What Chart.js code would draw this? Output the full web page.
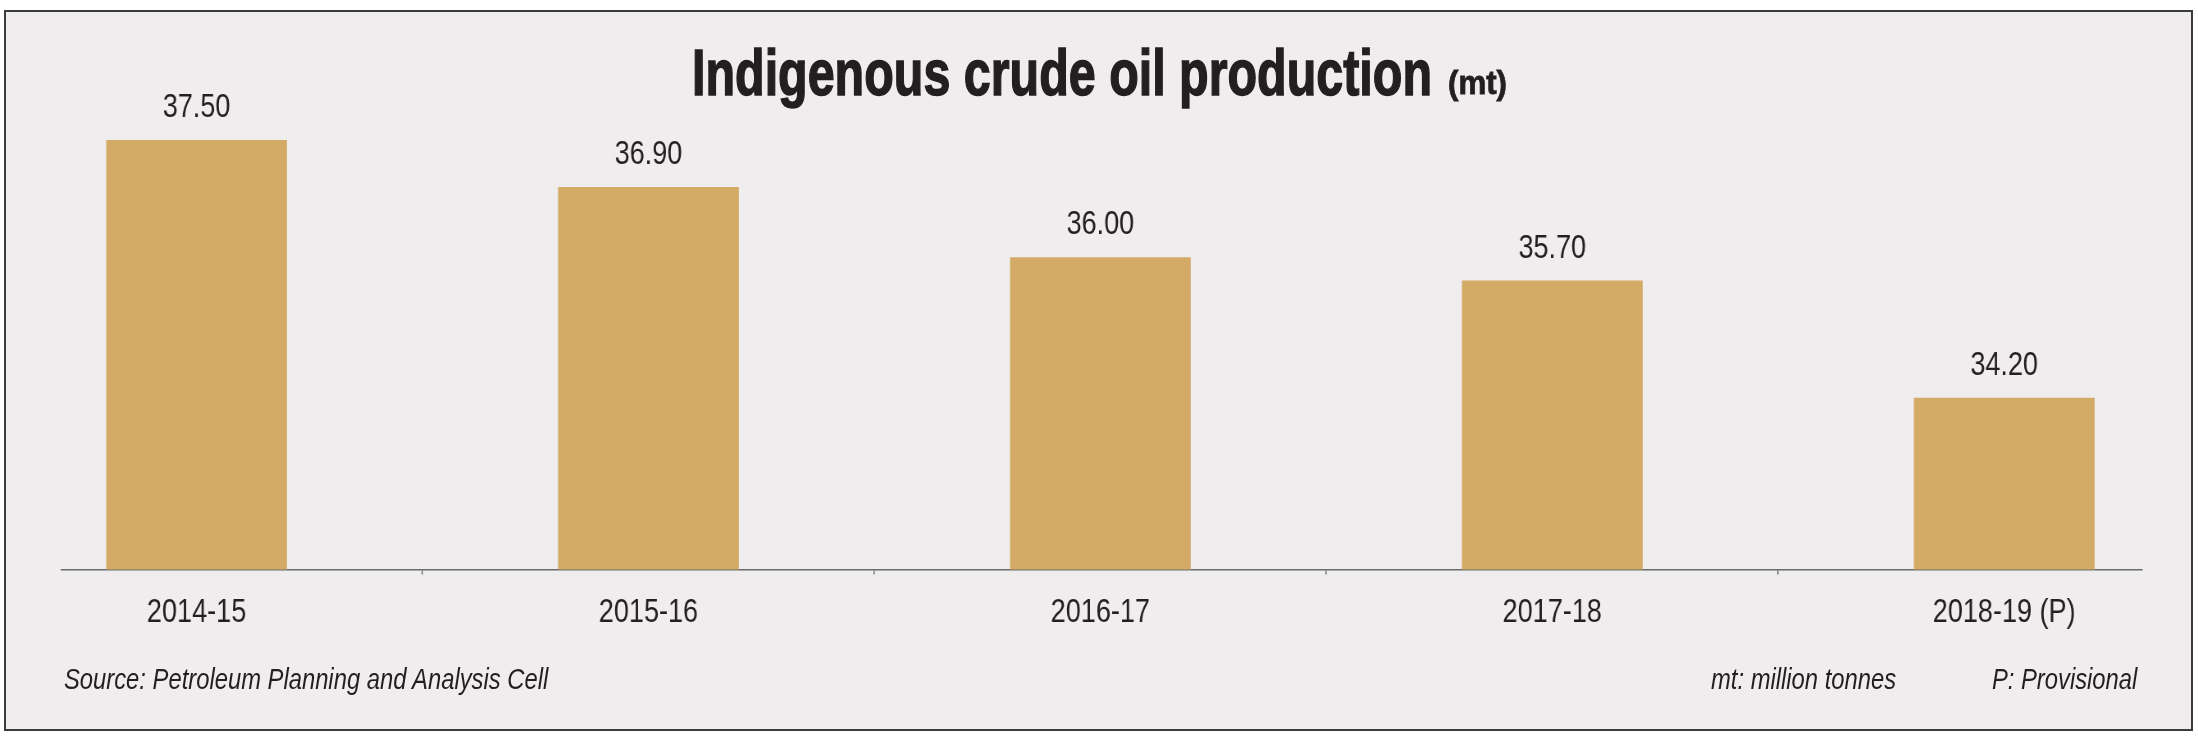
<!DOCTYPE html>
<html>
<head>
<meta charset="utf-8">
<script src="https://cdn.jsdelivr.net/npm/chart.js@4/dist/chart.umd.min.js"></script>
<style>
  body { margin: 0; background: #ffffff; width: 2198px; height: 741px; overflow: hidden; position: relative; }
  #frame { position: absolute; left: 4px; top: 10px; width: 2189px; height: 721px; box-sizing: border-box;
           border: 2px solid #3c3a3b; background: #efedee; }
  /* canvas is drawn 1/0.82 wider and squeezed back, which gives the narrow type of the print graphic */
  #chart { position: absolute; left: 0; top: 0; }
  .sans { font-family: "Liberation Sans", Arial, sans-serif; color: #231f20; }
  #title, #unit { position: absolute; white-space: nowrap; font-weight: bold; line-height: 1; transform-origin: 0 0;
                  -webkit-text-stroke: 1.5px #231f20; }
  #title { left: 692px; top: 41px; font-size: 64px; }
  #unit { left: 1448px; top: 66px; font-size: 33px; -webkit-text-stroke: 0.8px #231f20; }
  .note { position: absolute; top: 664.5px; font-size: 29px; font-style: italic; line-height: 1; white-space: nowrap;
          transform: scaleX(0.82); transform-origin: 0 0; }
  .note.right { transform-origin: 100% 0; }
</style>
</head>
<body>
<div id="frame"></div>
<canvas id="chart" width="2680" height="741" style="width:2198px;height:741px"></canvas>
<div id="title" class="sans">Indigenous crude oil production</div>
<div id="unit" class="sans">(mt)</div>
<div class="note sans" style="left:64px">Source: Petroleum Planning and Analysis Cell</div>
<div class="note sans" style="left:1711px">mt: million tonnes</div>
<div class="note right sans" style="right:61px">P: Provisional</div>
<script>
// chart values
let categories = ['2014-15', '2015-16', '2016-17', '2017-18', '2018-19 (P)']
let production = [37.5, 36.9, 36.0, 35.7, 34.2]

let fontFamily = '"Liberation Sans", Arial, sans-serif'
let textColor = '#231f20'
let barColor = '#d3ab67'
let axisColor = '#6b6b6b'
let squeeze = 2198 / 2680   // css width / canvas width

// squeeze heading text to the width it has in the print version
function fitWidth(el, target) {
    let w = el.getBoundingClientRect().width
    el.style.transform = 'scaleX(' + (target / w) + ')'
}

// numbers written above each bar
let valueLabels = {
    id: 'valueLabels',
    afterDatasetsDraw(chart) {
        let ctx = chart.ctx
        let meta = chart.getDatasetMeta(0)
        ctx.save()
        ctx.font = '33px ' + fontFamily
        ctx.fillStyle = textColor
        ctx.textAlign = 'center'
        ctx.textBaseline = 'alphabetic'
        meta.data.forEach(function(bar, i) {
            ctx.fillText(production[i].toFixed(2), bar.x, bar.y - 23)
        })
        ctx.restore()
    }
}

function drawChart() {
    fitWidth(document.querySelector('#title'), 740)
    fitWidth(document.querySelector('#unit'), 59)

    let ctx = document.querySelector('#chart').getContext('2d')
    new Chart(ctx, {
        type: 'bar',
        data: {
            datasets: [{
                data: production.map(function(v, i) { return { x: i, y: v } }),
                backgroundColor: barColor,
                // the half-way tick marks make the slot half a category wide
                barPercentage: 0.8,
                categoryPercentage: 1
            }]
        },
        plugins: [valueLabels],
        options: {
            responsive: false,
            devicePixelRatio: 1,
            animation: false,
            layout: { padding: { left: 61 / squeeze, right: 56 / squeeze, top: 101, bottom: 51.5 } },
            plugins: { legend: { display: false }, tooltip: { enabled: false } },
            scales: {
                x: {
                    type: 'linear',
                    offset: false,
                    min: -0.3,
                    max: 4.305,
                    afterBuildTicks: function(axis) {
                        // labels on the bars, small marks halfway between them
                        let ticks = []
                        categories.forEach(function(c, i) {
                            if (i > 0) ticks.push({ value: i - 0.5 })
                            ticks.push({ value: i })
                        })
                        axis.ticks = ticks
                    },
                    afterFit: function(axis) { axis.height = 120 },
                    grid: {
                        offset: false,
                        drawOnChartArea: false,
                        tickLength: 5,
                        lineWidth: 1.5,
                        tickColor: function(c) {
                            if (!c.tick) return axisColor
                            return Number.isInteger(c.tick.value) ? 'rgba(0,0,0,0)' : axisColor
                        }
                    },
                    border: { display: true, color: axisColor, width: 1.5 },
                    ticks: {
                        autoSkip: false,
                        maxRotation: 0,
                        padding: 19,
                        color: textColor,
                        font: { family: fontFamily, size: 33 },
                        callback: function(v) { return Number.isInteger(v) ? categories[v] : '' }
                    }
                },
                y: { display: false, min: 32, max: 38 }
            }
        }
    })
}

document.fonts.load('33px "Liberation Sans"').then(drawChart, drawChart)
</script>
</body>
</html>
